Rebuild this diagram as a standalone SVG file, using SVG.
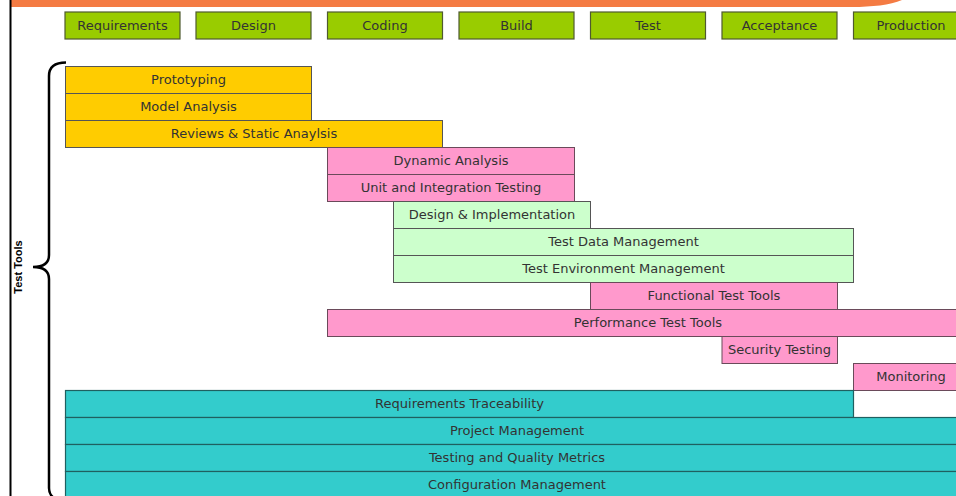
<svg xmlns="http://www.w3.org/2000/svg" width="956" height="496" viewBox="0 0 956 496">
<style>
.t{font-family:"DejaVu Sans","Liberation Sans",sans-serif;font-size:13px;fill:#333;text-anchor:middle;dominant-baseline:central}
.ph{fill:#99CC00;stroke:#4f5a30;stroke-width:1.2}
.y{fill:#FFCC00;stroke:#555;stroke-width:1}
.p{fill:#FF99CC;stroke:#6a4a5a;stroke-width:1}
.g{fill:#CCFFCC;stroke:#555;stroke-width:1}
.c{fill:#33CCCC;stroke:#1f6060;stroke-width:1.2}
</style>
<rect width="956" height="496" fill="#fff"/>
<path d="M10,0 H902 C890,5 872,7 852,7 H10 Z" fill="#F47B43"/>
<line x1="10.5" y1="0" x2="10.5" y2="496" stroke="#000" stroke-width="2"/>
<g id="phases">
<g id="ph-req"><rect class="ph" x="65" y="12" width="115" height="27"/><text class="t" x="122.5" y="25">Requirements</text></g>
<g id="ph-design"><rect class="ph" x="196" y="12" width="115" height="27"/><text class="t" x="253.5" y="25">Design</text></g>
<g id="ph-coding"><rect class="ph" x="327.5" y="12" width="115" height="27"/><text class="t" x="385" y="25">Coding</text></g>
<g id="ph-build"><rect class="ph" x="459" y="12" width="115" height="27"/><text class="t" x="516.5" y="25">Build</text></g>
<g id="ph-test"><rect class="ph" x="590.5" y="12" width="115" height="27"/><text class="t" x="648" y="25">Test</text></g>
<g id="ph-acc"><rect class="ph" x="722" y="12" width="115" height="27"/><text class="t" x="779.5" y="25">Acceptance</text></g>
<g id="ph-prod"><rect class="ph" x="853.5" y="12" width="115" height="27"/><text class="t" x="911" y="25">Production</text></g>
</g>
<g id="connectors">
<path d="M66,62.5 C56,62.5 49,66 49,76 V255 C49,263 43,267 33,267 C43,267 49,271 49,279 V488 C49,493 51,496 54,498" fill="none" stroke="#000" stroke-width="2.5"/>
</g>
<text x="18" y="267" transform="rotate(-90 18 267)" style="font-family:'Liberation Sans',sans-serif;font-size:11px;font-weight:bold;text-anchor:middle;dominant-baseline:central">Test Tools</text>
<g id="tools">
<g id="n1"><rect class="y" x="65.5" y="66.5" width="246" height="27"/><text class="t" x="188.5" y="79.5">Prototyping</text></g>
<g id="n2"><rect class="y" x="65.5" y="93.5" width="246" height="27"/><text class="t" x="188.5" y="106.5">Model Analysis</text></g>
<g id="n3"><rect class="y" x="65.5" y="120.5" width="377" height="27"/><text class="t" x="254" y="133.5">Reviews &amp; Static Anaylsis</text></g>
<g id="n4"><rect class="p" x="327.5" y="147.5" width="247" height="27"/><text class="t" x="451" y="160.5">Dynamic Analysis</text></g>
<g id="n5"><rect class="p" x="327.5" y="174.5" width="247" height="27"/><text class="t" x="451" y="187.5">Unit and Integration Testing</text></g>
<g id="n6"><rect class="g" x="393.5" y="201.5" width="197" height="27"/><text class="t" x="492" y="214.5">Design &amp; Implementation</text></g>
<g id="n7"><rect class="g" x="393.5" y="228.5" width="460" height="27"/><text class="t" x="623.5" y="241.5">Test Data Management</text></g>
<g id="n8"><rect class="g" x="393.5" y="255.5" width="460" height="27"/><text class="t" x="623.5" y="268.5">Test Environment Management</text></g>
<g id="n9"><rect class="p" x="590.5" y="282.5" width="247" height="27"/><text class="t" x="714" y="295.5">Functional Test Tools</text></g>
<g id="n10"><rect class="p" x="327.5" y="309.5" width="641" height="27"/><text class="t" x="648" y="322.5">Performance Test Tools</text></g>
<g id="n11"><rect class="p" x="722" y="336.5" width="115.5" height="27"/><text class="t" x="779.5" y="349.5">Security Testing</text></g>
<g id="n12"><rect class="p" x="853.5" y="363.5" width="115" height="27"/><text class="t" x="911" y="376.5">Monitoring</text></g>
<g id="n13"><rect class="c" x="65.5" y="390.5" width="788" height="27"/><text class="t" x="459.5" y="403.5">Requirements Traceability</text></g>
<g id="n14"><rect class="c" x="65.5" y="417.5" width="903" height="27"/><text class="t" x="517" y="430.5">Project Management</text></g>
<g id="n15"><rect class="c" x="65.5" y="444.5" width="903" height="27"/><text class="t" x="517" y="457.5">Testing and Quality Metrics</text></g>
<g id="n16"><rect class="c" x="65.5" y="471.5" width="903" height="27"/><text class="t" x="517" y="484.5">Configuration Management</text></g>
</g>
</svg>
